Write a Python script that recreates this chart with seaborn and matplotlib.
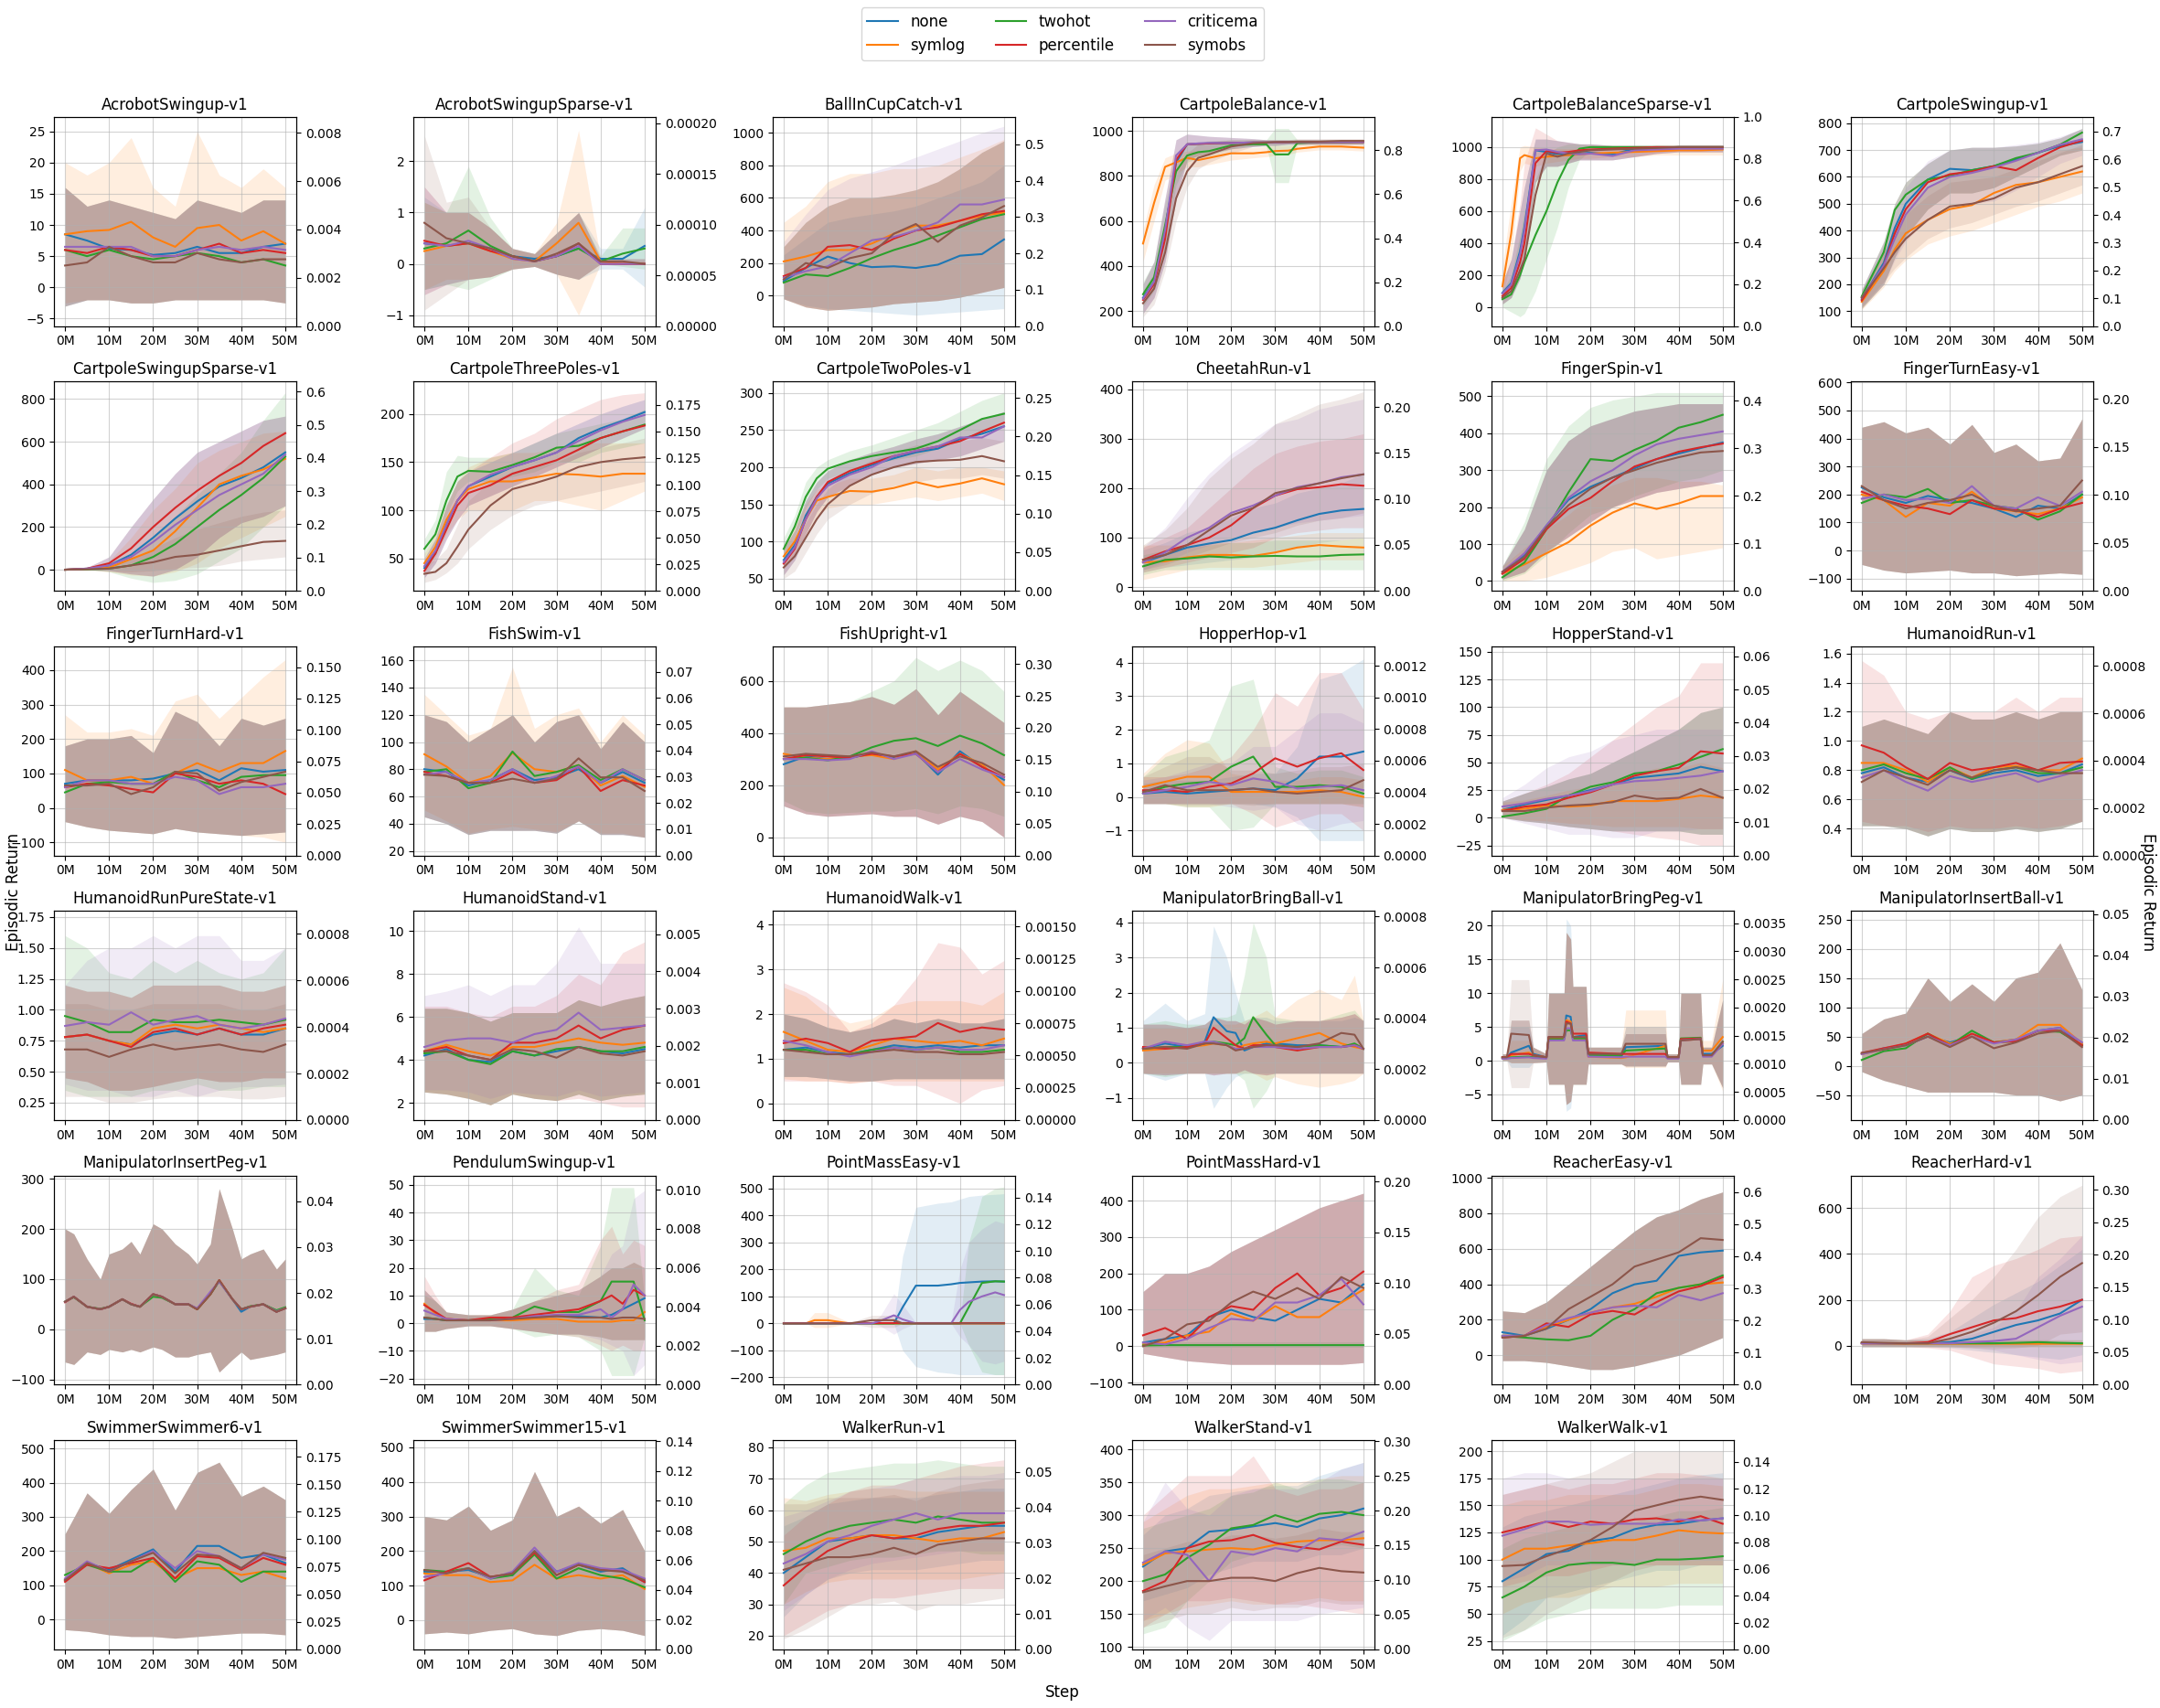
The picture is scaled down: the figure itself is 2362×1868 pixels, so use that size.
import numpy as np
import pandas as pd
import matplotlib
matplotlib.use("Agg")
import matplotlib.pyplot as plt
import seaborn as sns
from matplotlib.lines import Line2D
from matplotlib.ticker import FuncFormatter

METHODS = ["none", "symlog", "twohot", "percentile", "criticema", "symobs"]
PALETTE = dict(zip(METHODS, sns.color_palette("tab10", 6)))
X5 = [0, 5, 10, 15, 20, 25, 30, 35, 40, 45, 50]

ACROBOT_SWINGUP = dict(
    title="AcrobotSwingup-v1", ylim=(-6.2, 27.3), rmax=0.00866,
    none=[8.5, 7.5, 6.2, 6.0, 5.2, 5.5, 6.5, 5.5, 5.5, 6.5, 7.0],
    symlog=[8.5, 9.0, 9.2, 10.5, 8.0, 6.5, 9.5, 10.0, 7.5, 9.0, 7.0],
    twohot=[6.0, 5.0, 6.0, 5.0, 4.5, 5.0, 5.5, 5.0, 4.0, 4.5, 3.5],
    percentile=[6.0, 5.5, 6.5, 6.0, 5.0, 5.0, 6.0, 7.0, 5.5, 6.0, 5.5],
    criticema=[6.5, 6.5, 6.5, 6.5, 5.0, 5.0, 6.0, 6.5, 6.0, 6.5, 6.0],
    symobs=[3.5, 4.0, 6.5, 5.0, 4.0, 4.0, 5.5, 4.5, 4.0, 4.5, 4.5],
    lo=[-3.0, -2.0, -2.0, -2.5, -2.5, -2.0, -2.0, -2.0, -2.0, -2.0, -2.5],
    hi=[16, 13, 14, 13, 12, 11, 14, 13, 12, 14, 14],
    band={"symlog": ([-2.5, -2, -2, -2.5, -2.5, -2, -2, -2, -2, -2, -2.5],
                     [20, 18, 20, 24, 16, 13, 25, 18, 16, 19, 16])},
)

ACROBOT_SWINGUP_SPARSE = dict(
    title="AcrobotSwingupSparse-v1", ylim=(-1.21, 2.86), rmax=0.000206,
    none=[0.4, 0.35, 0.4, 0.3, 0.15, 0.1, 0.15, 0.3, 0.1, 0.1, 0.35],
    symlog=[0.25, 0.35, 0.4, 0.25, 0.1, 0.05, 0.4, 0.8, 0.05, 0.0, 0.0],
    twohot=[0.3, 0.4, 0.65, 0.35, 0.15, 0.05, 0.15, 0.3, 0.05, 0.2, 0.3],
    percentile=[0.45, 0.35, 0.4, 0.25, 0.15, 0.05, 0.15, 0.4, 0.0, 0.0, 0.0],
    criticema=[0.4, 0.35, 0.45, 0.3, 0.1, 0.05, 0.15, 0.35, 0.0, 0.0, 0.0],
    symobs=[0.8, 0.5, 0.4, 0.3, 0.15, 0.05, 0.2, 0.4, 0.05, 0.05, 0.0],
    lo=[-0.6, -0.4, -0.3, -0.25, -0.1, -0.05, -0.2, -0.3, 0.0, 0.0, 0.0],
    hi=[1.5, 1.0, 1.0, 0.7, 0.3, 0.2, 0.6, 1.0, 0.1, 0.1, 0.1],
    band={
        "twohot": ([-0.5, -0.4, -0.5, -0.3, -0.1, -0.05, -0.2, -0.3, 0, -0.05, -0.1],
                   [1.2, 1.0, 1.9, 0.9, 0.3, 0.2, 0.6, 1.0, 0.15, 0.7, 0.7]),
        "symlog": ([-0.5, -0.3, -0.3, -0.25, -0.1, -0.05, -0.2, -1.0, 0, 0, 0],
                   [1.2, 1.0, 1.0, 0.7, 0.3, 0.2, 0.8, 2.6, 0.1, 0.05, 0.05]),
        "none": ([-0.5, -0.4, -0.3, -0.25, -0.1, -0.05, -0.2, -0.3, -0.1, -0.1, -0.45],
                 [1.3, 1.0, 1.0, 0.7, 0.3, 0.2, 0.6, 1.0, 0.3, 0.3, 1.1]),
        "symobs": ([-0.9, -0.6, -0.3, -0.25, -0.1, -0.05, -0.2, -0.3, 0, 0, 0],
                   [2.5, 1.2, 1.3, 0.7, 0.3, 0.2, 0.6, 1.0, 0.1, 0.1, 0.1]),
    },
)

BALL_IN_CUP_CATCH = dict(
    title="BallInCupCatch-v1", ylim=(-187, 1097), rmax=0.575,
    none=[90, 170, 240, 200, 175, 180, 170, 190, 245, 255, 345],
    symlog=[210, 240, 280, 280, 320, 380, 430, 430, 460, 490, 510],
    twohot=[80, 130, 120, 170, 230, 280, 320, 370, 420, 470, 500],
    percentile=[120, 170, 300, 310, 280, 350, 400, 420, 460, 500, 520],
    criticema=[110, 150, 180, 260, 340, 360, 400, 450, 560, 560, 590],
    symobs=[100, 200, 170, 230, 260, 380, 440, 330, 430, 480, 550],
    lo=[-20, -70, -90, -80, -70, -50, -40, -30, -10, 20, 50],
    hi=[300, 450, 550, 600, 600, 620, 650, 700, 780, 880, 950],
    band={
        "none": ([-20, -60, -80, -90, -100, -110, -120, -110, -100, -90, -80],
                 [250, 350, 450, 480, 500, 520, 550, 600, 650, 700, 800]),
        "criticema": ([-20, -70, -90, -80, -70, -50, -40, -30, -10, 20, 50],
                      [330, 500, 650, 720, 760, 800, 850, 900, 950, 1000, 1040]),
        "symlog": ([-20, -70, -90, -80, -70, -50, -40, -30, -10, 20, 50],
                   [450, 550, 700, 750, 750, 780, 780, 800, 850, 900, 960]),
    },
)

CARTPOLE_BALANCE = dict(
    title="CartpoleBalance-v1", ylim=(134, 1061), rmax=0.952,
    x=[0, 2.5, 5, 7.5, 10, 12.5, 15, 20, 25, 28, 30, 33, 35, 40, 45, 50],
    none=[260, 330, 560, 860, 940, 942, 944, 946, 948, 948, 948, 950, 950, 950, 950, 950],
    symlog=[500, 680, 840, 860, 880, 870, 880, 900, 900, 905, 910, 912, 920, 930, 930, 925],
    twohot=[275, 350, 580, 820, 890, 905, 910, 935, 940, 940, 895, 895, 945, 950, 950, 952],
    percentile=[250, 320, 520, 870, 940, 942, 944, 946, 948, 948, 948, 950, 950, 950, 950, 950],
    criticema=[255, 330, 560, 890, 940, 944, 946, 946, 948, 948, 948, 950, 950, 950, 950, 952],
    symobs=[235, 300, 460, 700, 820, 880, 895, 930, 945, 948, 950, 950, 952, 952, 955, 955],
    lo=[190, 260, 420, 700, 870, 890, 900, 920, 930, 935, 935, 940, 940, 940, 940, 940],
    hi=[320, 420, 700, 960, 985, 980, 975, 970, 965, 960, 960, 960, 960, 960, 960, 960],
    band={
        "symlog": ([420, 600, 780, 810, 840, 840, 850, 870, 880, 885, 890, 895, 905, 915, 915, 910],
                   [560, 760, 880, 900, 910, 910, 915, 925, 925, 930, 935, 935, 940, 945, 945, 940]),
        "twohot": ([220, 290, 480, 760, 860, 880, 890, 920, 930, 930, 770, 770, 935, 940, 940, 940],
                   [330, 420, 680, 880, 940, 950, 955, 960, 960, 960, 1010, 1010, 960, 960, 960, 960]),
        "symobs": ([175, 230, 380, 600, 750, 830, 860, 900, 930, 935, 935, 940, 940, 940, 940, 940],
                   [290, 370, 560, 800, 900, 940, 950, 960, 960, 960, 960, 960, 965, 965, 965, 965]),
    },
)

CARTPOLE_BALANCE_SPARSE = dict(
    title="CartpoleBalanceSparse-v1", ylim=(-118, 1188), rmax=1.0,
    x=[0, 2, 4, 5, 7.5, 10, 12.5, 15, 17.5, 20, 25, 30, 35, 40, 45, 50],
    none=[90, 150, 350, 500, 980, 970, 955, 950, 960, 965, 955, 990, 995, 1000, 1000, 1000],
    symlog=[130, 460, 930, 950, 930, 940, 945, 950, 955, 960, 965, 970, 975, 980, 980, 985],
    twohot=[50, 80, 200, 280, 450, 600, 780, 920, 990, 1000, 1000, 1000, 1000, 1000, 1000, 1000],
    percentile=[70, 120, 280, 400, 900, 975, 965, 970, 980, 985, 990, 995, 1000, 1000, 1000, 1000],
    criticema=[85, 140, 330, 480, 980, 985, 970, 960, 955, 960, 945, 980, 985, 990, 990, 990],
    symobs=[60, 100, 230, 300, 700, 960, 940, 960, 970, 980, 985, 990, 995, 1000, 1000, 1000],
    lo=[20, 60, 180, 300, 780, 880, 880, 900, 920, 920, 920, 940, 960, 970, 970, 970],
    hi=[150, 300, 600, 750, 1050, 1050, 1040, 1030, 1020, 1020, 1010, 1010, 1010, 1010, 1010, 1010],
    band={
        "twohot": ([0, -30, -60, -40, 100, 300, 500, 750, 920, 980, 990, 990, 990, 990, 990, 990],
                   [100, 200, 450, 600, 800, 950, 1000, 1020, 1020, 1010, 1010, 1010, 1010, 1010, 1010, 1010]),
        "symlog": ([60, 300, 850, 900, 880, 900, 910, 920, 930, 930, 940, 940, 950, 950, 950, 950],
                   [250, 650, 1000, 1010, 1000, 990, 990, 990, 990, 995, 995, 1000, 1000, 1010, 1010, 1010]),
        "percentile": ([20, 60, 180, 300, 780, 880, 880, 900, 920, 920, 920, 940, 960, 970, 970, 970],
                       [150, 300, 650, 900, 1120, 1080, 1040, 1030, 1020, 1020, 1010, 1010, 1010, 1010, 1010, 1010]),
    },
)

CARTPOLE_SWINGUP = dict(
    title="CartpoleSwingup-v1", ylim=(44.5, 823), rmax=0.7526,
    x=[0, 5, 7.5, 10, 15, 20, 25, 30, 35, 40, 45, 50],
    none=[145, 280, 410, 500, 590, 630, 625, 640, 665, 690, 715, 730],
    symlog=[135, 250, 330, 390, 440, 480, 495, 540, 570, 580, 600, 620],
    twohot=[155, 320, 477, 534, 590, 605, 625, 640, 670, 690, 720, 765],
    percentile=[140, 270, 390, 480, 580, 610, 620, 640, 625, 670, 710, 735],
    criticema=[150, 270, 370, 460, 560, 600, 615, 635, 660, 690, 720, 740],
    symobs=[150, 260, 320, 370, 440, 490, 500, 520, 560, 580, 610, 640],
    lo=[110, 200, 300, 380, 480, 540, 540, 560, 600, 640, 680, 700],
    hi=[180, 360, 500, 580, 650, 700, 710, 710, 715, 725, 745, 780],
    band={
        "symlog": ([105, 190, 250, 290, 350, 380, 400, 430, 460, 490, 510, 540],
                   [170, 320, 420, 480, 560, 610, 620, 640, 660, 680, 700, 710]),
        "symobs": ([115, 210, 260, 300, 370, 410, 430, 460, 490, 510, 540, 570],
                   [180, 320, 400, 460, 530, 580, 590, 600, 630, 660, 690, 720]),
        "criticema": ([115, 200, 290, 360, 450, 500, 500, 510, 550, 600, 650, 680],
                      [185, 350, 470, 560, 660, 700, 710, 710, 720, 730, 750, 780]),
    },
)

CARTPOLE_SWINGUP_SPARSE = dict(
    title="CartpoleSwingupSparse-v1", ylim=(-98.7, 881.5), rmax=0.630,
    none=[0, 5, 20, 70, 150, 240, 320, 390, 430, 480, 550],
    symlog=[0, 3, 10, 50, 90, 180, 290, 400, 440, 470, 520],
    twohot=[0, 2, 5, 20, 60, 120, 200, 280, 350, 430, 530],
    percentile=[0, 5, 30, 100, 200, 290, 370, 440, 500, 580, 640],
    criticema=[0, 5, 20, 60, 130, 210, 280, 350, 400, 450, 540],
    symobs=[0, 2, 5, 20, 35, 60, 70, 90, 110, 130, 135],
    lo=[0, 0, -5, -20, -30, 0, 60, 150, 220, 250, 300],
    hi=[5, 10, 60, 200, 330, 450, 550, 600, 650, 700, 720],
    band={
        "twohot": ([0, 0, -10, -40, -60, -50, -20, 40, 100, 200, 300],
                   [5, 10, 20, 60, 150, 250, 350, 450, 550, 700, 830]),
        "symobs": ([0, 0, -5, -10, -5, 5, 10, 20, 40, 50, 60],
                   [5, 10, 20, 50, 100, 150, 190, 220, 250, 270, 280]),
        "symlog": ([0, 0, -10, -25, -30, -10, 30, 100, 150, 200, 250],
                   [5, 10, 40, 150, 280, 380, 500, 560, 600, 640, 650]),
    },
)

X13 = [0, 2.5, 5, 7.5, 10, 15, 20, 25, 30, 35, 40, 45, 50]

CARTPOLE_THREE_POLES = dict(
    title="CartpoleThreePoles-v1", ylim=(16.4, 233.6), rmax=0.197, x=X13,
    none=[40, 55, 85, 110, 125, 135, 145, 152, 160, 175, 185, 193, 202],
    symlog=[45, 62, 90, 110, 122, 130, 130, 134, 138, 137, 135, 138, 138],
    twohot=[60, 75, 110, 135, 141, 140, 147, 155, 165, 167, 175, 182, 189],
    percentile=[37, 55, 80, 105, 118, 126, 138, 145, 152, 163, 175, 182, 188],
    criticema=[42, 58, 85, 110, 125, 137, 145, 152, 160, 172, 183, 192, 199],
    symobs=[34, 36, 45, 62, 80, 105, 122, 128, 135, 145, 150, 153, 155],
    lo=[30, 45, 70, 90, 105, 115, 125, 135, 145, 155, 165, 175, 185],
    hi=[50, 70, 105, 130, 140, 150, 160, 170, 180, 190, 200, 208, 215],
    band={
        "twohot": ([50, 65, 95, 120, 130, 130, 135, 140, 150, 150, 160, 165, 170],
                   [70, 90, 140, 157, 155, 155, 160, 170, 180, 185, 190, 195, 205]),
        "symlog": ([35, 50, 75, 90, 100, 100, 100, 110, 110, 105, 100, 110, 120],
                   [55, 75, 105, 130, 145, 155, 160, 160, 165, 170, 170, 170, 170]),
        "symobs": ([25, 28, 35, 45, 60, 80, 95, 105, 110, 115, 120, 125, 130],
                   [45, 48, 60, 85, 110, 130, 140, 145, 150, 160, 165, 170, 175]),
        "percentile": ([30, 45, 70, 90, 105, 115, 125, 135, 145, 155, 165, 175, 185],
                       [50, 70, 105, 130, 140, 155, 170, 180, 195, 205, 215, 220, 222]),
    },
)

CARTPOLE_TWO_POLES = dict(
    title="CartpoleTwoPoles-v1", ylim=(33.6, 315.2), rmax=0.271, x=X13,
    none=[75, 95, 135, 160, 178, 192, 203, 212, 220, 225, 238, 245, 255],
    symlog=[80, 100, 130, 155, 160, 168, 167, 172, 180, 173, 178, 185, 177],
    twohot=[90, 120, 160, 185, 198, 208, 215, 220, 225, 235, 250, 265, 272],
    percentile=[70, 90, 130, 160, 180, 195, 205, 215, 222, 228, 235, 248, 260],
    criticema=[72, 92, 130, 158, 175, 190, 200, 215, 222, 228, 240, 240, 255],
    symobs=[65, 80, 105, 130, 150, 175, 190, 200, 207, 209, 210, 215, 208],
    lo=[55, 75, 110, 140, 160, 175, 190, 200, 205, 210, 215, 225, 235],
    hi=[90, 115, 155, 180, 195, 210, 220, 228, 238, 245, 255, 265, 275],
    band={
        "twohot": ([80, 105, 145, 170, 185, 195, 205, 210, 215, 225, 235, 245, 255],
                   [105, 135, 180, 200, 210, 222, 230, 240, 250, 260, 275, 290, 300]),
        "symlog": ([65, 80, 110, 135, 145, 150, 150, 155, 160, 155, 160, 165, 155],
                   [95, 120, 150, 170, 175, 185, 185, 190, 200, 195, 200, 200, 195]),
        "symobs": ([50, 60, 85, 110, 130, 150, 165, 175, 180, 185, 185, 190, 185],
                   [80, 100, 125, 150, 170, 195, 210, 220, 230, 230, 235, 240, 235]),
    },
)

CHEETAH_RUN = dict(
    title="CheetahRun-v1", ylim=(-7.4, 415.4), rmax=0.2276,
    none=[50, 65, 80, 88, 95, 110, 120, 135, 148, 155, 158],
    symlog=[50, 52, 60, 65, 65, 63, 70, 80, 85, 82, 80],
    twohot=[42, 55, 58, 62, 60, 62, 63, 62, 62, 65, 66],
    percentile=[55, 72, 85, 100, 125, 160, 185, 198, 202, 208, 205],
    criticema=[50, 70, 100, 120, 150, 165, 185, 202, 210, 222, 228],
    symobs=[55, 65, 85, 115, 145, 160, 190, 200, 210, 220, 228],
    lo=[30, 40, 50, 55, 60, 60, 65, 70, 75, 80, 80],
    hi=[80, 100, 130, 160, 190, 220, 240, 260, 270, 280, 290],
    band={
        "criticema": ([35, 50, 70, 85, 100, 110, 120, 130, 135, 140, 145],
                      [80, 120, 180, 230, 270, 300, 330, 340, 360, 370, 380]),
        "symobs": ([35, 45, 60, 75, 90, 100, 110, 125, 135, 140, 150],
                   [85, 115, 160, 220, 260, 290, 330, 350, 370, 380, 395]),
        "percentile": ([30, 40, 50, 60, 70, 80, 100, 110, 115, 120, 120],
                       [80, 100, 120, 160, 200, 240, 270, 285, 295, 300, 310]),
        "none": ([30, 40, 45, 50, 55, 60, 70, 80, 90, 95, 100],
                 [75, 90, 110, 120, 140, 160, 170, 190, 200, 210, 230]),
        "symlog": ([15, 25, 35, 40, 40, 40, 45, 50, 55, 55, 55],
                   [85, 85, 85, 90, 90, 95, 100, 105, 110, 110, 110]),
        "twohot": ([25, 35, 35, 35, 35, 35, 35, 35, 35, 35, 35],
                   [65, 75, 80, 85, 90, 90, 95, 95, 95, 95, 100]),
    },
)

FINGER_SPIN = dict(
    title="FingerSpin-v1", ylim=(-26.4, 539.7), rmax=0.4405,
    none=[20, 70, 150, 220, 255, 280, 305, 330, 345, 360, 375],
    symlog=[20, 45, 75, 105, 150, 185, 210, 195, 210, 230, 230],
    twohot=[10, 50, 140, 240, 330, 325, 355, 380, 415, 430, 450],
    percentile=[20, 60, 140, 195, 225, 270, 310, 330, 350, 362, 372],
    criticema=[25, 75, 150, 225, 270, 300, 340, 370, 385, 395, 405],
    symobs=[25, 65, 145, 205, 250, 280, 300, 320, 335, 348, 352],
    lo=[5, 25, 80, 120, 160, 200, 220, 240, 250, 260, 270],
    hi=[40, 140, 300, 380, 420, 440, 460, 470, 480, 480, 480],
    band={
        "twohot": ([0, 20, 70, 130, 180, 200, 230, 250, 270, 280, 300],
                   [40, 160, 330, 420, 470, 490, 500, 510, 510, 510, 510]),
        "symlog": ([0, 0, 10, 30, 50, 80, 90, 60, 70, 80, 90],
                   [40, 90, 140, 180, 230, 260, 280, 280, 270, 270, 260]),
    },
)

FINGER_TURN_EASY = dict(
    title="FingerTurnEasy-v1", ylim=(-143.6, 603), rmax=0.218,
    none=[225, 190, 170, 195, 180, 170, 150, 120, 160, 150, 200],
    symlog=[200, 180, 120, 170, 160, 210, 150, 140, 130, 150, 190],
    twohot=[170, 200, 190, 220, 170, 180, 160, 150, 110, 140, 200],
    percentile=[210, 180, 160, 150, 130, 180, 150, 145, 120, 150, 170],
    criticema=[185, 200, 180, 185, 170, 230, 160, 150, 190, 160, 210],
    symobs=[230, 180, 150, 170, 180, 200, 160, 140, 150, 160, 250],
    lo=[-50, -70, -80, -75, -70, -80, -80, -90, -85, -80, -85],
    hi=[440, 460, 420, 440, 380, 450, 350, 380, 320, 330, 470],
)

FINGER_TURN_HARD = dict(
    title="FingerTurnHard-v1", ylim=(-137.9, 468.8), rmax=0.1665,
    none=[70, 80, 80, 80, 85, 100, 110, 80, 115, 105, 110],
    symlog=[110, 80, 80, 90, 70, 100, 130, 105, 130, 130, 165],
    twohot=[45, 70, 75, 70, 70, 105, 80, 60, 90, 95, 95],
    percentile=[60, 70, 65, 55, 45, 100, 90, 70, 80, 70, 40],
    criticema=[60, 80, 80, 70, 70, 90, 80, 40, 60, 60, 70],
    symobs=[65, 65, 70, 40, 60, 105, 100, 50, 75, 90, 105],
    lo=[-40, -55, -65, -70, -75, -60, -70, -75, -80, -75, -70],
    hi=[180, 200, 200, 210, 160, 280, 250, 180, 260, 240, 260],
    band={"symlog": ([-40, -55, -65, -70, -75, -60, -70, -75, -80, -85, -100],
                     [270, 220, 220, 230, 210, 310, 330, 260, 320, 380, 430])},
)

FISH_SWIM = dict(
    title="FishSwim-v1", ylim=(16.65, 170.3), rmax=0.0797,
    none=[80, 78, 68, 72, 80, 72, 74, 80, 70, 78, 70],
    symlog=[91, 82, 70, 75, 92, 80, 78, 83, 68, 75, 67],
    twohot=[78, 80, 66, 70, 93, 75, 78, 83, 72, 80, 72],
    percentile=[78, 75, 70, 70, 78, 70, 72, 82, 64, 72, 68],
    criticema=[76, 78, 70, 72, 80, 70, 75, 82, 70, 80, 72],
    symobs=[76, 75, 70, 70, 73, 70, 73, 88, 74, 74, 64],
    lo=[45, 40, 32, 35, 35, 35, 33, 42, 32, 32, 30],
    hi=[120, 115, 100, 110, 120, 100, 115, 120, 95, 115, 100],
    band={"symlog": ([50, 42, 33, 36, 38, 36, 34, 42, 33, 33, 30],
                     [135, 120, 105, 110, 155, 110, 120, 125, 100, 120, 105])},
)

FISH_UPRIGHT = dict(
    title="FishUpright-v1", ylim=(-70, 732.7), rmax=0.3276,
    none=[280, 310, 300, 305, 320, 305, 325, 240, 330, 270, 220],
    symlog=[320, 305, 300, 310, 315, 300, 330, 260, 320, 280, 200],
    twohot=[300, 305, 295, 310, 345, 370, 380, 350, 390, 360, 315],
    percentile=[300, 315, 310, 305, 320, 310, 320, 250, 320, 270, 230],
    criticema=[300, 300, 295, 300, 330, 300, 320, 250, 300, 260, 230],
    symobs=[310, 320, 315, 310, 325, 310, 330, 270, 310, 285, 240],
    lo=[120, 90, 80, 85, 90, 80, 80, 50, 80, 60, 0],
    hi=[500, 500, 510, 520, 540, 510, 570, 470, 560, 500, 440],
    band={"twohot": ([140, 100, 90, 95, 100, 100, 110, 90, 120, 110, 80],
                     [500, 500, 510, 520, 560, 600, 690, 640, 680, 640, 560])},
)

HOPPER_HOP = dict(
    title="HopperHop-v1", ylim=(-1.74, 4.48), rmax=0.001325,
    none=[0.1, 0.15, 0.1, 0.15, 0.2, 0.25, 0.2, 0.55, 1.2, 1.2, 1.35],
    symlog=[0.3, 0.45, 0.6, 0.6, 0.15, 0.15, 0.15, 0.15, 0.2, 0.15, 0.0],
    twohot=[0.1, 0.3, 0.4, 0.45, 0.9, 1.2, 0.3, 0.3, 0.35, 0.3, 0.1],
    percentile=[0.2, 0.2, 0.15, 0.3, 0.4, 0.7, 1.15, 0.9, 1.15, 1.3, 0.8],
    criticema=[0.1, 0.2, 0.3, 0.45, 0.35, 0.55, 0.45, 0.25, 0.3, 0.35, 0.2],
    symobs=[0.15, 0.35, 0.2, 0.2, 0.2, 0.25, 0.15, 0.1, 0.15, 0.2, 0.5],
    lo=[-0.2, -0.2, -0.25, -0.25, -0.2, -0.25, -0.2, -0.2, -0.2, -0.2, -0.3],
    hi=[0.6, 0.9, 1.2, 1.2, 0.8, 0.8, 0.7, 0.8, 0.9, 0.9, 1.0],
    band={
        "twohot": ([-0.2, -0.2, -0.3, -0.3, -1.0, -0.9, -0.2, -0.2, -0.2, -0.2, -0.2],
                   [0.6, 1.2, 1.4, 1.7, 3.3, 3.5, 0.9, 0.7, 0.8, 0.8, 0.6]),
        "percentile": ([-0.2, -0.2, -0.2, -0.2, -0.2, -0.5, -0.9, -0.7, -0.5, -0.5, -1.0],
                       [0.6, 0.6, 0.7, 0.9, 1.2, 2.0, 3.1, 2.7, 3.7, 3.7, 2.6]),
        "none": ([-0.2, -0.2, -0.2, -0.2, -0.2, -0.2, -0.3, -0.6, -1.3, -1.3, -1.3],
                 [0.4, 0.5, 0.5, 0.5, 0.6, 0.7, 0.7, 1.5, 3.5, 3.7, 4.1]),
        "criticema": ([-0.2, -0.2, -0.2, -0.2, -0.3, -0.4, -0.3, -0.8, -1.0, -0.8, -0.7],
                      [0.5, 0.6, 0.8, 1.0, 1.0, 1.5, 1.5, 2.0, 2.5, 2.5, 2.2]),
        "symlog": ([-0.2, -0.2, -0.3, -0.3, -0.2, -0.2, -0.2, -0.2, -0.2, -0.2, -0.3],
                   [0.7, 1.3, 1.7, 1.6, 0.7, 0.6, 0.5, 0.5, 0.6, 0.6, 0.5]),
    },
)

HOPPER_STAND = dict(
    title="HopperStand-v1", ylim=(-34.1, 154.9), rmax=0.063,
    none=[7, 12, 16, 20, 25, 30, 36, 38, 40, 46, 42],
    symlog=[7, 8, 11, 10, 11, 15, 15, 15, 17, 20, 18],
    twohot=[1, 4, 8, 20, 28, 32, 40, 42, 48, 55, 62],
    percentile=[6, 10, 12, 18, 23, 30, 38, 42, 45, 60, 58],
    criticema=[10, 13, 17, 20, 24, 30, 33, 34, 36, 38, 42],
    symobs=[6, 6, 9, 11, 12, 14, 20, 17, 18, 26, 18],
    lo=[0, -3, -5, -8, -10, -12, -12, -12, -12, -15, -15],
    hi=[15, 22, 28, 35, 40, 50, 60, 70, 80, 95, 100],
    band={
        "percentile": ([0, -3, -5, -8, -10, -12, -15, -18, -20, -25, -25],
                       [15, 22, 30, 40, 55, 70, 85, 100, 110, 140, 140]),
        "criticema": ([0, -5, -10, -15, -15, -18, -18, -12, -12, -10, -10],
                      [18, 30, 45, 55, 60, 70, 75, 80, 80, 80, 80]),
        "symlog": ([0, -2, -3, -5, -6, -8, -8, -8, -8, -10, -10],
                   [14, 16, 20, 25, 28, 32, 40, 45, 45, 50, 45]),
    },
)

HUMANOID_RUN = dict(
    title="HumanoidRun-v1", ylim=(0.217, 1.648), rmax=0.000883,
    none=[0.78, 0.82, 0.75, 0.72, 0.8, 0.74, 0.78, 0.8, 0.76, 0.78, 0.84],
    symlog=[0.85, 0.85, 0.8, 0.72, 0.82, 0.75, 0.82, 0.83, 0.8, 0.8, 0.88],
    twohot=[0.8, 0.84, 0.78, 0.74, 0.82, 0.74, 0.8, 0.82, 0.78, 0.78, 0.82],
    percentile=[0.97, 0.92, 0.82, 0.74, 0.85, 0.8, 0.82, 0.85, 0.8, 0.85, 0.86],
    criticema=[0.75, 0.8, 0.72, 0.66, 0.76, 0.72, 0.75, 0.78, 0.72, 0.76, 0.8],
    symobs=[0.72, 0.8, 0.75, 0.7, 0.8, 0.75, 0.8, 0.82, 0.8, 0.78, 0.78],
    lo=[0.42, 0.42, 0.4, 0.35, 0.4, 0.38, 0.38, 0.4, 0.38, 0.4, 0.45],
    hi=[1.1, 1.15, 1.1, 1.05, 1.2, 1.15, 1.15, 1.2, 1.15, 1.2, 1.2],
    band={"percentile": ([0.45, 0.42, 0.42, 0.38, 0.42, 0.4, 0.4, 0.42, 0.4, 0.42, 0.45],
                         [1.55, 1.45, 1.2, 1.15, 1.2, 1.2, 1.2, 1.3, 1.2, 1.3, 1.3])},
)

HUMANOID_RUN_PURE_STATE = dict(
    title="HumanoidRunPureState-v1", ylim=(0.109, 1.799), rmax=0.000898,
    none=[0.78, 0.8, 0.75, 0.72, 0.8, 0.83, 0.8, 0.85, 0.8, 0.8, 0.85],
    symlog=[0.78, 0.8, 0.75, 0.72, 0.85, 0.88, 0.85, 0.88, 0.85, 0.82, 0.85],
    twohot=[0.95, 0.9, 0.82, 0.82, 0.92, 0.9, 0.9, 0.92, 0.9, 0.88, 0.92],
    percentile=[0.78, 0.8, 0.75, 0.7, 0.82, 0.85, 0.8, 0.85, 0.8, 0.85, 0.88],
    criticema=[0.87, 0.9, 0.88, 0.98, 0.88, 0.92, 0.95, 0.88, 0.85, 0.88, 0.93],
    symobs=[0.68, 0.68, 0.62, 0.68, 0.72, 0.68, 0.7, 0.72, 0.68, 0.66, 0.72],
    lo=[0.45, 0.42, 0.35, 0.35, 0.38, 0.42, 0.45, 0.42, 0.42, 0.45, 0.45],
    hi=[1.2, 1.15, 1.15, 1.1, 1.2, 1.2, 1.2, 1.2, 1.15, 1.15, 1.2],
    band={
        "twohot": ([0.35, 0.3, 0.3, 0.3, 0.35, 0.35, 0.4, 0.35, 0.35, 0.38, 0.38],
                   [1.6, 1.5, 1.3, 1.25, 1.4, 1.3, 1.4, 1.3, 1.25, 1.3, 1.5]),
        "criticema": ([0.4, 0.35, 0.35, 0.3, 0.3, 0.35, 0.3, 0.35, 0.38, 0.38, 0.4],
                      [1.2, 1.4, 1.5, 1.5, 1.6, 1.5, 1.6, 1.6, 1.4, 1.4, 1.5]),
        "symobs": ([0.3, 0.3, 0.25, 0.25, 0.28, 0.3, 0.3, 0.3, 0.28, 0.28, 0.3],
                   [1.05, 1.05, 1.0, 1.0, 1.05, 1.05, 1.05, 1.05, 1.0, 1.0, 1.05]),
    },
)

HUMANOID_STAND = dict(
    title="HumanoidStand-v1", ylim=(1.19, 10.94), rmax=0.005624,
    none=[4.2, 4.5, 4.0, 3.9, 4.4, 4.2, 4.4, 4.6, 4.4, 4.3, 4.5],
    symlog=[4.4, 4.7, 4.4, 4.2, 4.6, 4.6, 4.8, 5.0, 4.8, 4.7, 4.8],
    twohot=[4.3, 4.4, 4.0, 3.8, 4.4, 4.2, 4.5, 4.6, 4.4, 4.4, 4.6],
    percentile=[4.4, 4.6, 4.2, 4.0, 4.8, 4.8, 5.0, 5.6, 5.0, 5.4, 5.6],
    criticema=[4.6, 4.9, 5.0, 5.0, 4.8, 5.2, 5.4, 6.2, 5.4, 5.5, 5.6],
    symobs=[4.4, 4.4, 4.2, 4.0, 4.5, 4.4, 4.1, 4.6, 4.3, 4.2, 4.4],
    lo=[2.5, 2.4, 2.2, 1.9, 2.4, 2.2, 2.1, 2.4, 2.1, 2.3, 2.4],
    hi=[6.4, 6.4, 6.2, 5.8, 6.2, 6.2, 6.2, 6.8, 6.5, 6.8, 7.0],
    band={
        "criticema": ([2.6, 2.6, 2.5, 2.2, 2.5, 2.4, 2.3, 2.6, 2.3, 2.4, 2.5],
                      [7.0, 7.2, 7.5, 7.0, 7.5, 7.5, 8.5, 10.2, 8.5, 8.5, 8.5]),
        "percentile": ([2.5, 2.4, 2.2, 1.9, 2.4, 2.2, 2.1, 2.2, 2.0, 1.8, 1.8],
                       [6.5, 6.5, 6.2, 6.0, 6.5, 6.5, 7.0, 8.0, 7.5, 9.0, 9.5]),
    },
)

HUMANOID_WALK = dict(
    title="HumanoidWalk-v1", ylim=(-0.376, 4.31), rmax=0.001618,
    none=[1.2, 1.25, 1.15, 1.1, 1.2, 1.3, 1.25, 1.3, 1.25, 1.3, 1.3],
    symlog=[1.6, 1.4, 1.2, 1.15, 1.3, 1.45, 1.4, 1.35, 1.4, 1.3, 1.45],
    twohot=[1.2, 1.2, 1.1, 1.1, 1.2, 1.25, 1.2, 1.25, 1.15, 1.15, 1.2],
    percentile=[1.35, 1.45, 1.35, 1.15, 1.4, 1.45, 1.5, 1.8, 1.6, 1.7, 1.65],
    criticema=[1.4, 1.3, 1.15, 1.05, 1.15, 1.25, 1.2, 1.25, 1.2, 1.2, 1.3],
    symobs=[1.2, 1.15, 1.1, 1.1, 1.15, 1.2, 1.15, 1.15, 1.1, 1.1, 1.15],
    lo=[0.6, 0.6, 0.55, 0.5, 0.5, 0.55, 0.55, 0.55, 0.55, 0.55, 0.55],
    hi=[2.0, 1.9, 1.7, 1.6, 1.7, 1.9, 1.8, 1.9, 1.8, 1.8, 1.9],
    band={
        "percentile": ([0.5, 0.5, 0.5, 0.45, 0.5, 0.4, 0.4, 0.2, 0.0, 0.3, 0.4],
                       [2.7, 2.5, 2.2, 1.6, 1.8, 2.2, 2.8, 3.6, 3.5, 2.9, 3.2]),
        "symlog": ([0.55, 0.5, 0.5, 0.45, 0.5, 0.5, 0.5, 0.5, 0.5, 0.5, 0.5],
                   [2.6, 2.4, 2.0, 1.8, 1.9, 2.2, 2.3, 2.3, 2.3, 2.2, 2.5]),
    },
)

MANIPULATOR_BRING_BALL = dict(
    title="ManipulatorBringBall-v1", ylim=(-1.636, 4.33), rmax=0.000822,
    x=[0, 5, 10, 14, 16, 19, 21, 23, 25, 28, 30, 35, 40, 45, 48, 50],
    none=[0.4, 0.55, 0.45, 0.6, 1.3, 0.9, 0.85, 0.35, 0.45, 0.55, 0.55, 0.5, 0.5, 0.45, 0.5, 0.4],
    symlog=[0.35, 0.4, 0.45, 0.5, 0.55, 0.5, 0.4, 0.5, 0.55, 0.6, 0.55, 0.7, 0.85, 0.55, 0.45, 0.4],
    twohot=[0.4, 0.45, 0.45, 0.55, 0.6, 0.55, 0.5, 0.7, 1.3, 0.8, 0.5, 0.45, 0.5, 0.45, 0.55, 0.4],
    percentile=[0.45, 0.4, 0.45, 0.55, 1.0, 0.7, 0.5, 0.4, 0.5, 0.5, 0.45, 0.35, 0.45, 0.45, 0.5, 0.4],
    criticema=[0.4, 0.6, 0.5, 0.6, 0.6, 0.5, 0.4, 0.4, 0.45, 0.45, 0.45, 0.4, 0.45, 0.45, 0.5, 0.4],
    symobs=[0.4, 0.45, 0.4, 0.55, 0.55, 0.5, 0.35, 0.4, 0.45, 0.5, 0.5, 0.45, 0.55, 0.85, 0.8, 0.4],
    lo=[-0.3, -0.35, -0.3, -0.3, -0.35, -0.3, -0.3, -0.2, -0.3, -0.35, -0.3, -0.3, -0.3, -0.3, -0.3, -0.3],
    hi=[1.1, 1.1, 1.0, 1.1, 1.3, 1.2, 1.2, 1.1, 1.3, 1.2, 1.1, 1.2, 1.2, 1.3, 1.4, 1.2],
    band={
        "none": ([-0.3, -0.5, -0.3, -0.3, -1.3, -0.7, -0.4, -0.3, -0.3, -0.3, -0.3, -0.3, -0.3, -0.3, -0.3, -0.3],
                 [1.2, 1.7, 1.2, 1.4, 3.9, 3.0, 2.0, 1.2, 1.3, 1.3, 1.2, 1.2, 1.2, 1.2, 1.3, 1.2]),
        "twohot": ([-0.3, -0.4, -0.3, -0.3, -0.3, -0.3, -0.3, -0.5, -1.3, -0.8, -0.3, -0.3, -0.3, -0.3, -0.3, -0.3],
                   [1.1, 1.2, 1.1, 1.1, 1.3, 1.3, 1.4, 2.5, 4.0, 3.0, 1.3, 1.2, 1.2, 1.4, 1.5, 1.2]),
        "symlog": ([-0.3, -0.3, -0.3, -0.3, -0.3, -0.3, -0.3, -0.3, -0.3, -0.5, -0.4, -0.6, -0.7, -0.6, -0.5, -0.3],
                   [1.0, 1.0, 1.0, 1.0, 1.1, 1.1, 1.1, 1.2, 1.3, 1.5, 1.3, 1.8, 2.1, 1.8, 2.5, 1.2]),
    },
)

MANIPULATOR_BRING_PEG = dict(
    title="ManipulatorBringPeg-v1", ylim=(-8.8, 22.17), rmax=0.003717,
    x=[0, 1, 2, 6, 7, 10, 10.5, 14, 14.5, 15.5, 16, 19, 19.5, 27, 28, 37, 37.5, 40, 40.5, 45, 45.5, 47.5, 50],
    none=[0.5, 0.5, 1.2, 2.2, 1.0, 0.5, 3.5, 3.5, 6.7, 6.5, 3.5, 3.8, 1.0, 0.6, 2.0, 2.2, 0.5, 0.5, 3.2, 3.3, 1.0, 1.0, 2.2],
    symlog=[0.5, 0.5, 0.8, 1.2, 0.8, 0.5, 3.3, 3.3, 6.0, 5.8, 3.3, 3.3, 0.6, 0.4, 0.5, 2.2, 0.5, 0.5, 3.0, 3.2, 1.5, 1.5, 3.5],
    twohot=[0.4, 0.4, 0.5, 0.6, 0.5, 0.5, 3.2, 3.2, 4.5, 4.5, 3.3, 3.3, 0.8, 0.8, 1.5, 1.8, 0.5, 0.5, 3.3, 3.4, 0.8, 0.8, 2.8],
    percentile=[0.5, 0.5, 1.0, 1.0, 0.8, 0.5, 3.5, 3.5, 5.8, 5.5, 4.0, 4.0, 1.2, 1.0, 1.0, 1.0, 0.5, 0.5, 3.2, 3.3, 0.8, 0.8, 2.5],
    criticema=[0.3, 0.3, 0.4, 0.5, 0.4, 0.3, 3.0, 3.0, 4.8, 4.8, 3.0, 3.0, 0.6, 0.5, 0.6, 0.6, 0.3, 0.3, 3.0, 3.2, 0.6, 0.6, 2.5],
    symobs=[0.5, 0.5, 4.0, 3.8, 0.8, 0.5, 3.5, 3.5, 5.5, 5.5, 3.5, 3.5, 1.0, 1.0, 2.5, 2.5, 0.5, 0.5, 3.0, 3.2, 0.8, 0.8, 2.8],
    lo=[0, 0, -0.3, -0.3, -0.3, -0.2, -3.5, -3.5, -6.5, -6.0, -3.5, -3.5, -0.5, -0.5, -0.8, -0.8, -0.2, -0.2, -3.5, -3.5, -0.5, -0.5, -4.0],
    hi=[1, 1, 6, 6, 2, 1, 10, 10, 19, 18, 11, 11, 2, 2, 4, 4, 1, 1, 10, 10, 2, 2, 9],
    band={
        "symobs": ([0, 0, -4, -4, -0.3, -0.2, -3.5, -3.5, -6.5, -6.0, -3.5, -3.5, -0.5, -0.5, -0.8, -0.8, -0.2, -0.2, -3.5, -3.5, -0.5, -0.5, -4.0],
                   [1, 1, 12, 12, 2, 1, 10, 10, 19, 18, 11, 11, 2, 2, 5, 5, 1, 1, 10, 10, 2, 2, 9]),
        "none": ([0, 0, -1, -1, -0.3, -0.2, -3.5, -3.5, -7.5, -7.0, -3.5, -3.5, -0.5, -0.5, -0.8, -0.8, -0.2, -0.2, -3.5, -3.5, -0.5, -0.5, -4.0],
                 [1, 1, 5, 5, 2, 1, 10, 10, 21, 20, 11, 11, 2, 2, 5, 5, 1, 1, 10, 10, 2, 2, 9]),
        "symlog": ([0, 0, -0.3, -0.3, -0.3, -0.2, -3.5, -3.5, -6.5, -6, -3.5, -3.5, -0.5, -0.5, -1, -1, -0.2, -0.2, -3.5, -3.5, -0.5, -0.5, -4.5],
                   [1, 1, 3, 3, 2, 1, 10, 10, 19, 18, 11, 11, 2, 2, 7.5, 7.5, 1, 1, 10, 10, 3, 3, 12]),
    },
)

MANIPULATOR_INSERT_BALL = dict(
    title="ManipulatorInsertBall-v1", ylim=(-92.8, 264.6), rmax=0.0507,
    none=[20, 30, 35, 50, 40, 50, 40, 45, 60, 65, 35],
    symlog=[20, 28, 38, 55, 38, 50, 40, 45, 70, 70, 38],
    twohot=[10, 25, 30, 55, 35, 60, 40, 42, 60, 58, 35],
    percentile=[22, 30, 38, 55, 35, 55, 40, 42, 60, 60, 35],
    criticema=[20, 28, 35, 50, 35, 50, 38, 45, 60, 65, 40],
    symobs=[22, 28, 35, 50, 32, 50, 30, 40, 55, 60, 32],
    lo=[-10, -25, -35, -45, -45, -45, -45, -50, -50, -60, -50],
    hi=[55, 80, 90, 150, 110, 140, 110, 150, 160, 210, 130],
)

MANIPULATOR_INSERT_PEG = dict(
    title="ManipulatorInsertPeg-v1", ylim=(-110.3, 306), rmax=0.04555,
    x=[0, 2, 5, 8, 10, 13, 15, 17, 20, 22, 25, 28, 30, 33, 35, 38, 40, 42, 45, 48, 50],
    none=[55, 65, 45, 40, 45, 60, 50, 45, 70, 65, 50, 50, 40, 70, 97, 60, 35, 45, 50, 35, 42],
    symlog=[55, 65, 45, 40, 45, 60, 50, 45, 70, 65, 50, 50, 40, 70, 98, 60, 40, 45, 50, 36, 42],
    twohot=[55, 64, 45, 41, 45, 60, 50, 45, 65, 63, 50, 50, 40, 70, 96, 60, 40, 46, 50, 38, 44],
    percentile=[54, 65, 45, 40, 45, 60, 51, 45, 70, 65, 50, 50, 40, 70, 98, 60, 40, 45, 50, 35, 42],
    criticema=[55, 65, 45, 40, 45, 60, 50, 45, 70, 65, 50, 50, 42, 75, 95, 60, 40, 45, 50, 36, 42],
    symobs=[55, 65, 45, 40, 45, 60, 50, 45, 70, 65, 50, 50, 40, 70, 98, 60, 40, 45, 50, 35, 42],
    lo=[-65, -70, -45, -50, -40, -45, -40, -45, -35, -40, -55, -55, -50, -45, -85, -60, -45, -60, -55, -50, -45],
    hi=[200, 190, 140, 100, 150, 160, 175, 150, 210, 200, 170, 150, 130, 170, 280, 200, 140, 150, 160, 120, 140],
)

PENDULUM_SWINGUP = dict(
    title="PendulumSwingup-v1", ylim=(-22.3, 53.3), rmax=0.01073,
    x=[0, 2.5, 5, 10, 15, 20, 25, 30, 35, 40, 42.5, 45, 47.5, 50],
    none=[1.5, 1.5, 1, 1, 1, 1.5, 2, 2.5, 2.5, 2, 3, 5, 7, 9],
    symlog=[7, 3.5, 1.5, 1, 1, 1, 1.5, 1.5, 0.5, 0.5, 0.5, 1, 1, 4],
    twohot=[2, 1.5, 1, 1, 1.5, 2, 6, 4, 4, 8, 15, 15, 15, 1],
    percentile=[6.5, 4, 1.5, 1, 2, 2, 3, 4, 5, 8, 10, 7, 12, 10],
    criticema=[4.5, 3, 1.5, 1, 1, 1.5, 2.5, 3, 3, 5, 2, 5, 14, 10],
    symobs=[2, 1.5, 1, 1, 1, 1.5, 2, 2.5, 2, 2, 1.5, 2, 2, 1.5],
    lo=[-3, -3, -2, -1, -1, -2, -3, -4, -4, -5, -6, -6, -6, -6],
    hi=[12, 8, 4, 3, 3, 5, 8, 10, 12, 17, 20, 20, 22, 20],
    band={
        "twohot": ([-3, -3, -2, -1, -1, -2, -5, -4, -5, -10, -19, -19, -19, -5],
                   [10, 8, 4, 3, 3, 5, 20, 12, 10, 28, 49, 49, 49, 8]),
        "criticema": ([-3, -3, -2, -1, -1, -2, -3, -4, -4, -6, -8, -10, -19, -15],
                      [12, 8, 4, 3, 3, 5, 8, 10, 12, 17, 25, 28, 45, 48]),
        "percentile": ([-3, -3, -2, -1, -1, -2, -3, -4, -5, -8, -10, -8, -10, -10],
                       [17, 10, 4, 3, 3, 5, 8, 12, 14, 30, 35, 25, 30, 28]),
    },
)

POINT_MASS_EASY = dict(
    title="PointMassEasy-v1", ylim=(-227, 547), rmax=0.1563,
    x=[0, 5, 7, 10, 15, 20, 22, 25, 27, 30, 35, 38, 40, 42, 45, 48, 50],
    none=[0, 0, 0, 0, 0, 0, 0, 0, 60, 140, 140, 145, 150, 152, 155, 156, 155],
    symlog=[0, 0, 12, 12, 0, 0, 0, 0, 0, 0, 0, 0, 0, 0, 0, 0, 0],
    twohot=[0, 0, 0, 0, 0, 0, 0, 0, 0, 0, 0, 0, 0, 60, 150, 156, 155],
    percentile=[0, 0, 0, 0, 0, 0, 0, 0, 0, 0, 0, 0, 0, 0, 0, 0, 0],
    criticema=[0, 0, 0, 0, 0, 0, 10, 30, 15, 0, 0, 0, 50, 80, 100, 115, 105],
    symobs=[0, 0, 0, 0, 0, 12, 12, 12, 0, 0, 0, 0, 0, 0, 0, 0, 0],
    lo=[-3, -3, -3, -3, -3, -3, -3, -3, -3, -3, -3, -3, -3, -3, -3, -3, -3],
    hi=[3, 3, 3, 3, 3, 3, 3, 3, 3, 3, 3, 3, 3, 3, 3, 3, 3],
    band={
        "none": ([0, 0, 0, 0, 0, 0, 0, 0, -100, -160, -180, -185, -190, -190, -190, -190, -190],
                 [3, 3, 3, 3, 3, 3, 3, 3, 250, 430, 445, 450, 460, 470, 475, 478, 480]),
        "twohot": ([0, 0, 0, 0, 0, 0, 0, 0, 0, 0, 0, 0, 0, -80, -180, -190, -190],
                   [3, 3, 3, 3, 3, 3, 3, 3, 3, 3, 3, 3, 3, 300, 470, 500, 505]),
        "criticema": ([0, 0, 0, 0, 0, 0, -10, -40, -20, 0, 0, 0, -50, -80, -140, -150, -140],
                      [3, 3, 3, 3, 3, 3, 30, 110, 70, 3, 3, 3, 200, 300, 350, 380, 370]),
        "symlog": ([0, 0, -15, -15, 0, 0, 0, 0, 0, 0, 0, 0, 0, 0, 0, 0, 0],
                   [3, 3, 40, 40, 3, 3, 3, 3, 3, 3, 3, 3, 3, 3, 3, 3, 3]),
        "symobs": ([0, 0, 0, 0, 0, -15, -15, -15, 0, 0, 0, 0, 0, 0, 0, 0, 0],
                   [3, 3, 3, 3, 3, 30, 30, 30, 3, 3, 3, 3, 3, 3, 3, 3, 3]),
    },
)

POINT_MASS_HARD = dict(
    title="PointMassHard-v1", ylim=(-105.8, 468.3), rmax=0.206,
    none=[10, 20, 30, 80, 100, 80, 70, 100, 130, 120, 170],
    symlog=[5, 10, 30, 40, 90, 70, 110, 80, 80, 120, 155],
    twohot=[2, 3, 3, 3, 3, 3, 3, 3, 3, 3, 3],
    percentile=[30, 50, 20, 80, 110, 100, 160, 200, 140, 160, 205],
    criticema=[10, 5, 20, 50, 75, 70, 120, 120, 140, 185, 115],
    symobs=[0, 20, 60, 70, 120, 150, 130, 160, 130, 190, 160],
    lo=[-20, -30, -40, -45, -50, -50, -50, -50, -50, -50, -45],
    hi=[150, 200, 200, 220, 260, 290, 320, 350, 380, 400, 420],
    band={"twohot": ([-5, -5, -5, -5, -5, -5, -5, -5, -5, -5, -5],
                     [10, 10, 10, 10, 10, 10, 10, 10, 10, 10, 10])},
)

REACHER_EASY = dict(
    title="ReacherEasy-v1", ylim=(-165.8, 1012), rmax=0.651,
    none=[130, 110, 150, 200, 260, 350, 400, 420, 560, 580, 590],
    symlog=[110, 110, 160, 200, 240, 270, 290, 330, 380, 400, 410],
    twohot=[110, 100, 90, 85, 110, 200, 260, 350, 380, 400, 450],
    percentile=[100, 110, 180, 160, 230, 250, 230, 300, 360, 390, 440],
    criticema=[110, 110, 170, 210, 240, 270, 280, 270, 340, 310, 350],
    symobs=[100, 110, 150, 260, 330, 400, 500, 540, 580, 660, 650],
    lo=[-30, -30, -40, -60, -80, -80, -60, -30, 0, 50, 100],
    hi=[250, 240, 300, 400, 500, 600, 700, 780, 820, 880, 920],
)

REACHER_HARD = dict(
    title="ReacherHard-v1", ylim=(-170.9, 741.7), rmax=0.322,
    none=[10, 10, 10, 10, 15, 30, 60, 90, 110, 140, 200],
    symlog=[10, 10, 8, 8, 8, 8, 8, 8, 8, 8, 8],
    twohot=[12, 10, 10, 10, 10, 10, 10, 12, 15, 12, 10],
    percentile=[10, 10, 10, 15, 50, 80, 110, 120, 150, 170, 200],
    criticema=[10, 10, 10, 10, 10, 15, 20, 30, 80, 130, 170],
    symobs=[15, 12, 10, 10, 30, 60, 100, 150, 220, 300, 360],
    lo=[-5, -5, -5, -5, -5, -5, -5, -5, -5, -5, -5],
    hi=[30, 30, 25, 25, 25, 25, 25, 25, 25, 25, 25],
    band={
        "symobs": ([-5, -5, -5, -5, -5, -10, -15, -10, 0, 50, 60],
                   [30, 30, 25, 40, 120, 200, 300, 420, 560, 650, 700]),
        "percentile": ([-5, -5, -5, -10, -20, -50, -80, -90, -100, -120, -110],
                       [30, 30, 25, 50, 150, 300, 350, 380, 420, 470, 480]),
        "none": ([-5, -5, -5, -5, -10, -20, -30, -40, -50, -60, -40],
                 [30, 30, 25, 30, 60, 120, 180, 230, 280, 350, 420]),
        "criticema": ([-5, -5, -5, -5, -5, -10, -20, -40, -60, -80, -70],
                      [30, 30, 25, 25, 30, 50, 80, 150, 300, 380, 480]),
    },
)

SWIMMER_SWIMMER6 = dict(
    title="SwimmerSwimmer6-v1", ylim=(-87.8, 524), rmax=0.1897,
    none=[115, 165, 145, 175, 205, 140, 215, 215, 180, 190, 165],
    symlog=[115, 165, 135, 160, 170, 120, 150, 150, 130, 140, 120],
    twohot=[130, 160, 140, 140, 180, 110, 170, 160, 110, 140, 140],
    percentile=[110, 160, 150, 165, 180, 120, 185, 180, 145, 180, 160],
    criticema=[120, 170, 140, 170, 200, 150, 200, 185, 150, 190, 175],
    symobs=[115, 165, 140, 170, 195, 135, 190, 185, 150, 195, 180],
    lo=[-30, -35, -45, -50, -50, -55, -50, -45, -40, -40, -45],
    hi=[250, 370, 310, 380, 440, 320, 430, 460, 360, 390, 350],
)

SWIMMER_SWIMMER15 = dict(
    title="SwimmerSwimmer15-v1", ylim=(-85.1, 520.4), rmax=0.1406,
    none=[140, 140, 145, 125, 130, 200, 140, 160, 140, 150, 110],
    symlog=[135, 130, 130, 110, 115, 160, 120, 130, 120, 130, 90],
    twohot=[145, 140, 150, 120, 130, 190, 120, 150, 130, 120, 95],
    percentile=[115, 140, 165, 125, 135, 195, 130, 160, 145, 145, 110],
    criticema=[125, 135, 150, 120, 140, 210, 140, 165, 150, 145, 120],
    symobs=[145, 135, 150, 125, 135, 200, 130, 160, 145, 140, 115],
    lo=[-40, -35, -40, -30, -25, -40, -45, -30, -25, -30, -45],
    hi=[300, 290, 330, 260, 290, 430, 300, 330, 280, 320, 200],
)

WALKER_RUN = dict(
    title="WalkerRun-v1", ylim=(15.6, 82.24), rmax=0.0589,
    none=[40, 45, 50, 51, 52, 51, 51, 53, 54, 55, 55],
    symlog=[47, 48, 51, 51, 52, 52, 51, 50, 51, 51, 53],
    twohot=[46, 50, 53, 55, 56, 57, 56, 58, 57, 56, 56],
    percentile=[36, 42, 47, 50, 52, 51, 52, 54, 55, 55, 56],
    criticema=[43, 46, 50, 52, 55, 57, 59, 57, 59, 59, 59],
    symobs=[41, 43, 45, 45, 46, 48, 46, 49, 50, 51, 51],
    lo=[28, 33, 38, 41, 43, 44, 45, 46, 47, 47, 47],
    hi=[58, 60, 63, 66, 67, 68, 70, 70, 71, 71, 72],
    band={
        "twohot": ([30, 40, 42, 44, 45, 45, 46, 47, 47, 46, 46],
                   [62, 68, 72, 73, 74, 75, 75, 76, 75, 74, 74]),
        "percentile": ([20, 24, 28, 30, 32, 32, 33, 34, 35, 35, 35],
                       [52, 58, 62, 66, 68, 68, 70, 72, 74, 75, 76]),
        "none": ([26, 33, 38, 40, 41, 41, 41, 42, 43, 44, 44],
                 [55, 58, 62, 63, 64, 64, 64, 65, 66, 67, 67]),
        "symlog": ([30, 34, 37, 38, 38, 38, 38, 38, 38, 39, 40],
                   [64, 63, 65, 66, 67, 67, 66, 66, 66, 66, 66]),
        "symobs": ([19, 22, 26, 30, 30, 31, 28, 30, 30, 31, 32],
                   [62, 62, 64, 64, 64, 65, 63, 66, 68, 69, 70]),
    },
)

WALKER_STAND = dict(
    title="WalkerStand-v1", ylim=(96.3, 413.5), rmax=0.301,
    none=[222, 245, 250, 275, 278, 283, 288, 282, 295, 300, 310],
    symlog=[225, 242, 245, 248, 250, 248, 255, 260, 262, 262, 265],
    twohot=[200, 210, 235, 255, 280, 285, 300, 290, 302, 305, 300],
    percentile=[185, 200, 250, 260, 262, 270, 258, 252, 248, 260, 255],
    criticema=[228, 245, 240, 200, 245, 240, 250, 245, 265, 262, 275],
    symobs=[183, 192, 200, 200, 205, 205, 200, 212, 220, 215, 213],
    lo=[140, 150, 160, 165, 170, 165, 165, 170, 175, 170, 170],
    hi=[290, 310, 330, 340, 340, 345, 350, 350, 355, 360, 360],
    band={
        "percentile": ([130, 150, 170, 170, 175, 170, 165, 165, 160, 155, 150],
                       [300, 330, 360, 360, 360, 390, 340, 330, 340, 340, 350]),
        "criticema": ([140, 160, 130, 110, 140, 140, 140, 140, 150, 155, 160],
                      [290, 350, 310, 300, 330, 340, 340, 340, 350, 370, 380]),
        "symobs": ([130, 140, 150, 150, 160, 155, 160, 160, 170, 165, 165],
                   [240, 250, 260, 260, 270, 270, 265, 270, 280, 275, 275]),
        "twohot": ([120, 130, 170, 200, 230, 240, 250, 245, 250, 255, 250],
                   [280, 290, 300, 310, 330, 335, 350, 340, 355, 355, 350]),
        "none": ([170, 180, 190, 210, 220, 230, 230, 230, 240, 240, 250],
                 [270, 300, 310, 330, 335, 340, 345, 345, 360, 370, 380]),
    },
)

WALKER_WALK = dict(
    title="WalkerWalk-v1", ylim=(17.1, 209.9), rmax=0.156,
    none=[80, 92, 105, 108, 117, 120, 128, 132, 133, 136, 138],
    symlog=[100, 110, 110, 113, 115, 118, 118, 122, 127, 125, 124],
    twohot=[65, 75, 88, 95, 97, 97, 95, 100, 100, 101, 103],
    percentile=[125, 130, 135, 130, 135, 133, 137, 138, 135, 140, 133],
    criticema=[122, 128, 135, 135, 132, 133, 133, 133, 137, 136, 138],
    symobs=[94, 95, 103, 110, 118, 130, 145, 150, 155, 158, 155],
    lo=[50, 60, 65, 65, 70, 75, 75, 75, 78, 78, 78],
    hi=[150, 155, 155, 160, 160, 160, 160, 165, 170, 170, 168],
    band={
        "symobs": ([28, 35, 50, 60, 70, 80, 90, 95, 95, 95, 95],
                   [160, 165, 170, 175, 180, 190, 200, 200, 200, 200, 200]),
        "percentile": ([75, 80, 85, 85, 90, 95, 95, 95, 95, 95, 95],
                       [160, 165, 170, 165, 170, 170, 175, 180, 180, 178, 175]),
        "criticema": ([80, 85, 95, 95, 95, 95, 95, 100, 100, 100, 100],
                      [175, 180, 180, 175, 175, 175, 175, 175, 175, 175, 175]),
        "none": ([30, 45, 65, 70, 75, 80, 85, 90, 90, 95, 95],
                 [130, 140, 145, 150, 155, 160, 165, 170, 175, 178, 180]),
        "twohot": ([25, 35, 45, 50, 55, 55, 55, 55, 58, 58, 58],
                   [110, 120, 125, 130, 135, 135, 135, 140, 145, 145, 148]),
    },
)

PANELS = [
    ACROBOT_SWINGUP, ACROBOT_SWINGUP_SPARSE, BALL_IN_CUP_CATCH, CARTPOLE_BALANCE,
    CARTPOLE_BALANCE_SPARSE, CARTPOLE_SWINGUP, CARTPOLE_SWINGUP_SPARSE,
    CARTPOLE_THREE_POLES, CARTPOLE_TWO_POLES, CHEETAH_RUN, FINGER_SPIN,
    FINGER_TURN_EASY, FINGER_TURN_HARD, FISH_SWIM, FISH_UPRIGHT, HOPPER_HOP,
    HOPPER_STAND, HUMANOID_RUN, HUMANOID_RUN_PURE_STATE, HUMANOID_STAND,
    HUMANOID_WALK, MANIPULATOR_BRING_BALL, MANIPULATOR_BRING_PEG,
    MANIPULATOR_INSERT_BALL, MANIPULATOR_INSERT_PEG, PENDULUM_SWINGUP,
    POINT_MASS_EASY, POINT_MASS_HARD, REACHER_EASY, REACHER_HARD,
    SWIMMER_SWIMMER6, SWIMMER_SWIMMER15, WALKER_RUN, WALKER_STAND, WALKER_WALK,
]


def draw_panel(ax, p):
    x = p.get("x", X5)
    n = len(x)
    bands = p.get("band", {})
    for m in METHODS:
        lo, hi = bands.get(m, (p["lo"], p["hi"]))
        if len(p[m]) != n or len(lo) != n or len(hi) != n:
            raise ValueError(f"length mismatch in {p['title']} / {m}")
        ax.fill_between(x, lo, hi, color=PALETTE[m], alpha=0.13, linewidth=0)
    df = pd.DataFrame({
        "step": np.tile(x, len(METHODS)),
        "ret": np.concatenate([np.asarray(p[m], dtype=float) for m in METHODS]),
        "method": np.repeat(METHODS, n),
    })
    sns.lineplot(data=df, x="step", y="ret", hue="method", hue_order=METHODS,
                 palette=PALETTE, estimator=None, legend=False, linewidth=1.5, ax=ax)
    ax.set_xlabel("")
    ax.set_ylabel("")
    ax.set_title(p["title"], fontsize=12)
    ax.set_xlim(-2.5, 52.5)
    ax.set_ylim(*p["ylim"])
    ax.set_xticks([0, 10, 20, 30, 40, 50])
    ax.xaxis.set_major_formatter(FuncFormatter(lambda v, _: f"{v:.0f}M"))
    ax.grid(True, color="#b0b0b0", alpha=0.55, linewidth=0.8)
    tw = ax.twinx()
    tw.set_ylim(0, p["rmax"])


fig, axes = plt.subplots(6, 6, figsize=(23.62, 18.68), dpi=100)
fig.subplots_adjust(left=0.025, right=0.969, bottom=0.0343, top=0.9315,
                    wspace=0.483, hspace=0.266)
flat = axes.flatten()
for ax, p in zip(flat, PANELS):
    draw_panel(ax, p)
for ax in flat[len(PANELS):]:
    ax.set_visible(False)

handles = [Line2D([0], [0], color=PALETTE[m], linewidth=1.5) for m in METHODS]
fig.legend(handles, METHODS, loc="upper center", bbox_to_anchor=(0.492, 1.0),
           ncol=3, fontsize=12, frameon=True)
fig.text(0.492, 0.009, "Step", ha="center", va="center", fontsize=12)
fig.text(0.0064, 0.478, "Episodic Return", ha="center", va="center",
         rotation=90, fontsize=12)
fig.text(0.9945, 0.478, "Episodic Return", ha="center", va="center",
         rotation=270, fontsize=12)

fig.savefig("out.png", dpi=100)
